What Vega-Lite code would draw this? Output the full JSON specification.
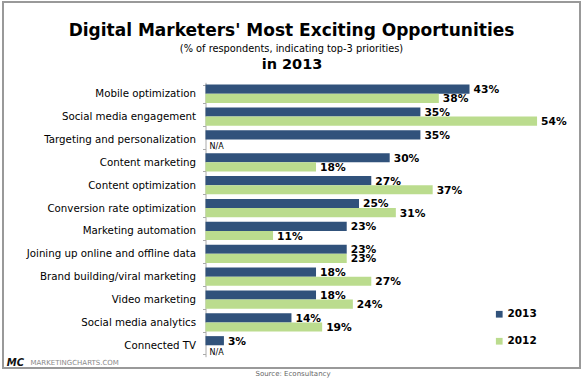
{
  "$schema": "https://vega.github.io/schema/vega-lite/v6.json",
  "width": 577,
  "height": 366,
  "autosize": "none",
  "padding": {"left": 3, "top": 2, "right": 5, "bottom": 13},
  "background": "white",
  "config": {
    "font": "DejaVu Sans",
    "view": {"stroke": "#999999", "strokeWidth": 2}
  },
  "title": {
    "text": "Digital Marketers' Most Exciting Opportunities",
    "subtitle": "(% of respondents, indicating top-3 priorities)",
    "anchor": "middle",
    "frame": "group",
    "offset": -57.5,
    "font": "DejaVu Sans",
    "fontSize": 17,
    "fontWeight": "bold",
    "color": "#000000",
    "subtitleFont": "DejaVu Sans",
    "subtitleFontSize": 9.8,
    "subtitleColor": "#000000",
    "subtitlePadding": 3.5
  },
  "data": {
    "values": [
      {"category": "Mobile optimization", "year": "2013", "value": 43, "label": "43%"},
      {"category": "Mobile optimization", "year": "2012", "value": 38, "label": "38%"},
      {"category": "Social media engagement", "year": "2013", "value": 35, "label": "35%"},
      {"category": "Social media engagement", "year": "2012", "value": 54, "label": "54%"},
      {"category": "Targeting and personalization", "year": "2013", "value": 35, "label": "35%"},
      {"category": "Targeting and personalization", "year": "2012", "value": null, "label": "N/A"},
      {"category": "Content marketing", "year": "2013", "value": 30, "label": "30%"},
      {"category": "Content marketing", "year": "2012", "value": 18, "label": "18%"},
      {"category": "Content optimization", "year": "2013", "value": 27, "label": "27%"},
      {"category": "Content optimization", "year": "2012", "value": 37, "label": "37%"},
      {"category": "Conversion rate optimization", "year": "2013", "value": 25, "label": "25%"},
      {"category": "Conversion rate optimization", "year": "2012", "value": 31, "label": "31%"},
      {"category": "Marketing automation", "year": "2013", "value": 23, "label": "23%"},
      {"category": "Marketing automation", "year": "2012", "value": 11, "label": "11%"},
      {"category": "Joining up online and offline data", "year": "2013", "value": 23, "label": "23%"},
      {"category": "Joining up online and offline data", "year": "2012", "value": 23, "label": "23%"},
      {"category": "Brand building/viral marketing", "year": "2013", "value": 18, "label": "18%"},
      {"category": "Brand building/viral marketing", "year": "2012", "value": 27, "label": "27%"},
      {"category": "Video marketing", "year": "2013", "value": 18, "label": "18%"},
      {"category": "Video marketing", "year": "2012", "value": 24, "label": "24%"},
      {"category": "Social media analytics", "year": "2013", "value": 14, "label": "14%"},
      {"category": "Social media analytics", "year": "2012", "value": 19, "label": "19%"},
      {"category": "Connected TV", "year": "2013", "value": 3, "label": "3%"},
      {"category": "Connected TV", "year": "2012", "value": null, "label": "N/A"}
    ]
  },
  "encoding": {
    "y": {
      "field": "category",
      "type": "nominal",
      "sort": null,
      "scale": {"range": [80.3, 354.7], "paddingInner": 0.2, "paddingOuter": 0.1},
      "axis": {
        "offset": -202.5,
        "domainColor": "#aaaaaa",
        "tickColor": "#aaaaaa",
        "tickSize": 3,
        "tickBand": "extent",
        "labelPadding": 7,
        "labelFont": "DejaVu Sans",
        "labelFontSize": 10.25,
        "labelColor": "#000000",
        "labelLimit": 260,
        "title": "MARKETINGCHARTS.COM",
        "titleAngle": 0,
        "titleX": -175.5,
        "titleY": 360,
        "titleAlign": "left",
        "titleBaseline": "middle",
        "titleFont": "DejaVu Sans",
        "titleFontSize": 7,
        "titleFontWeight": "normal",
        "titleColor": "#8a8a8a"
      }
    },
    "yOffset": {
      "field": "year",
      "type": "nominal",
      "scale": {"domain": ["2013", "2012"], "paddingInner": 0, "paddingOuter": 0}
    }
  },
  "layer": [
    {
      "mark": {"type": "bar"},
      "encoding": {
        "x": {
          "field": "value",
          "type": "quantitative",
          "scale": {"domain": [0, 60], "range": [202.5, 570.9], "nice": false},
          "axis": {
            "orient": "top",
            "labels": false,
            "ticks": false,
            "domain": false,
            "grid": false,
            "title": "in 2013",
            "titleX": 288.5,
            "titleY": 62.5,
            "titleAlign": "center",
            "titleBaseline": "middle",
            "titleFont": "DejaVu Sans",
            "titleFontSize": 14.5,
            "titleFontWeight": "bold",
            "titleColor": "#000000"
          }
        },
        "color": {
          "field": "year",
          "type": "nominal",
          "scale": {"domain": ["2013", "2012"], "range": ["#31527b", "#bbdc8e"]},
          "legend": {
            "orient": "none",
            "legendX": 491,
            "legendY": 307,
            "title": null,
            "symbolType": "square",
            "symbolSize": 45,
            "symbolStrokeWidth": 0,
            "labelFont": "DejaVu Sans",
            "labelFontSize": 10.5,
            "labelFontWeight": "bold",
            "labelColor": "#000000",
            "labelOffset": 3,
            "rowPadding": 16,
            "padding": 0
          }
        }
      }
    },
    {
      "transform": [{"filter": "datum.value != null"}],
      "mark": {"type": "text", "align": "left", "baseline": "middle", "dx": 4, "dy": 1, "fontSize": 10.7, "fontWeight": "bold", "font": "DejaVu Sans", "color": "#000000"},
      "encoding": {
        "x": {
          "field": "value",
          "type": "quantitative",
          "scale": {"domain": [0, 60], "range": [202.5, 570.9], "nice": false},
          "axis": {
            "orient": "bottom",
            "labels": false,
            "ticks": false,
            "domain": false,
            "grid": false,
            "title": "Source: Econsultancy",
            "titleX": 289.5,
            "titleY": 5,
            "titleAlign": "center",
            "titleBaseline": "middle",
            "titleFont": "DejaVu Sans",
            "titleFontSize": 7,
            "titleFontWeight": "normal",
            "titleColor": "#666666"
          }
        },
        "text": {"field": "label", "type": "nominal"}
      }
    },
    {
      "transform": [{"filter": "datum.value == null"}],
      "mark": {"type": "text", "align": "left", "baseline": "middle", "dx": 4, "dy": 3, "fontSize": 8, "font": "DejaVu Sans", "color": "#000000"},
      "encoding": {
        "x": {
          "datum": 0,
          "type": "quantitative",
          "axis": {
            "orient": "bottom",
            "labels": false,
            "ticks": false,
            "domain": false,
            "grid": false,
            "title": "MC",
            "titleX": 12,
            "titleY": -6,
            "titleAlign": "center",
            "titleBaseline": "middle",
            "titleFont": "DejaVu Sans",
            "titleFontSize": 10,
            "titleFontWeight": "bold",
            "titleFontStyle": "italic",
            "titleColor": "#111111"
          }
        },
        "text": {"field": "label", "type": "nominal"}
      }
    }
  ],
  "resolve": {"axis": {"x": "independent"}}
}
